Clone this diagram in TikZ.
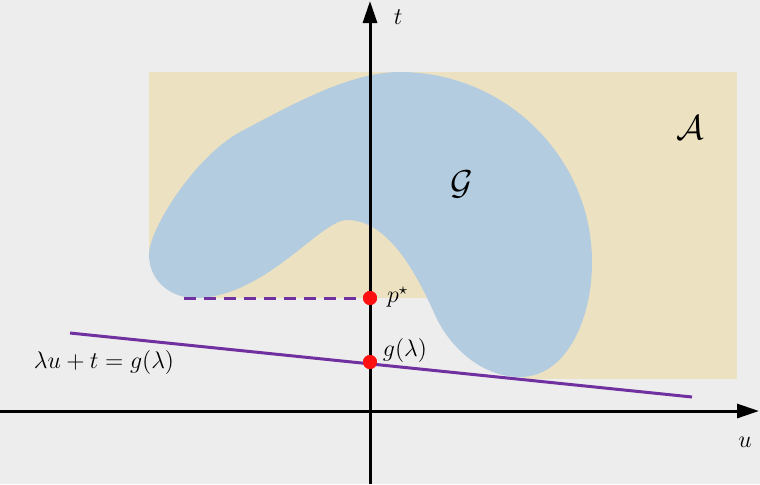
\documentclass[tikz,border=0pt]{standalone}
\usetikzlibrary{arrows.meta}
\definecolor{bgc}{RGB}{237,237,237}
\definecolor{tanc}{RGB}{236,225,192}
\definecolor{bluec}{RGB}{180,204,224}
\definecolor{purp}{RGB}{112,48,160}
\definecolor{dotred}{RGB}{255,16,16}
\begin{document}
\begin{tikzpicture}[x=0.5pt,y=-0.5pt,
  axis/.style={line width=1.5pt,-{Triangle[length=11pt,width=7pt]}},
  pline/.style={purp,line width=1.5pt},
  rdot/.style={circle,fill=dotred,inner sep=0pt,minimum size=7pt},
  lab/.style={font=\large},
  biglab/.style={font=\fontsize{16}{18}\selectfont}]
\fill[bgc] (0,0) rectangle (760,484);
\useasboundingbox (0,0) rectangle (760,484);
\fill[tanc] (149,72) rectangle (737,379);
\fill[bgc] (148,255) -- (148,380) -- (523,380) -- (523,298) -- (195,298) -- cycle;
\fill[bluec] (400,72)
  .. controls (505,72) and (592,157) .. (592,262)
  .. controls (592,322) and (565,377) .. (520,377)
  .. controls (480,377) and (448.5,345) .. (435,315)
  .. controls (415,270) and (387,220) .. (347,220)
  .. controls (320,220) and (265,298) .. (195,298)
  .. controls (170,298) and (149,280) .. (149,255)
  .. controls (149,228) and (196,156) .. (240,132)
  .. controls (293,104) and (350,72) .. (400,72) -- cycle;
\coordinate (dl) at (184,298);
\coordinate (ll) at (70,333);
\coordinate (lr) at (692,397);
\node[rdot] (p) at (370,298) {};
\node[rdot] (g) at (370,362) {};
\draw[pline,dashed,dash pattern=on 6pt off 4pt] (dl) -- (p.center);
\draw[pline] (ll) -- (lr);
\coordinate (xs) at (0,411);
\coordinate (xe) at (759,411);
\coordinate (ys) at (370,484);
\coordinate (ye) at (370,1);
\draw[axis] (xs) -- (xe);
\draw[axis] (ys) -- (ye);
\node[rdot] at (p) {};
\node[rdot] at (g) {};
\node[lab] (tl) at (398,17) {$t$};
\node[lab] (ul) at (745,442) {$u$};
\node[lab,anchor=west] (pl) at (380,297) {$p^\star$};
\node[lab] (gl) at (405,350) {$g(\lambda)$};
\node[lab] (eq) at (104,362) {$\lambda u+t=g(\lambda)$};
\node[biglab] (Gl) at (462,184) {$\mathcal{G}$};
\node[biglab] (Al) at (690,128) {$\mathcal{A}$};
\end{tikzpicture}
\end{document}
